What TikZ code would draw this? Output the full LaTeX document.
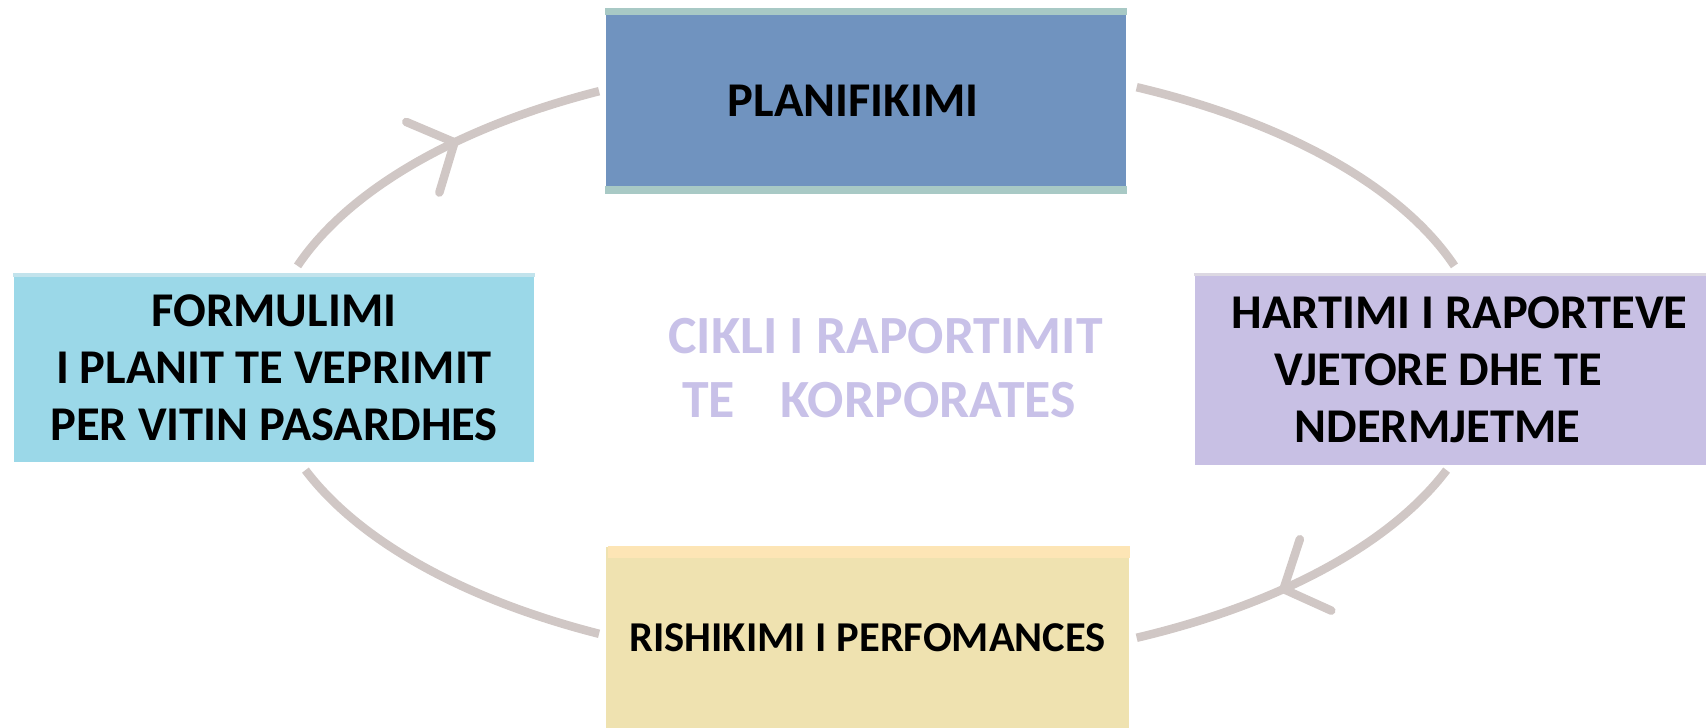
\documentclass[tikz,border=0pt]{standalone}
\usepackage{fontspec}
\setmainfont{Carlito}
\usetikzlibrary{arrows.meta,decorations.markings}

\definecolor{ringgray}{HTML}{D0C7C5}
\definecolor{planblue}{HTML}{7093BF}
\definecolor{planedge}{HTML}{A8C9C5}
\definecolor{formcyan}{HTML}{9BD8E8}
\definecolor{formedge}{HTML}{C2E3EC}
\definecolor{hartlilac}{HTML}{C8C0E4}
\definecolor{hartedge}{HTML}{DCD8E2}
\definecolor{rishsand}{HTML}{EFE2B0}
\definecolor{rishedge}{HTML}{FDE5B5}
\definecolor{ciklililac}{HTML}{C8C1E8}

\tikzset{
  stage/.style={minimum width=5.2cm, minimum height=1.84cm, inner sep=0pt,
    align=center, font=\bfseries\fontsize{13.8}{16.2}\selectfont},
  ring/.style={ringgray, line width=.085cm},
  ringtip/.style={postaction={decorate}, decoration={markings,
    mark=at position #1 with {\arrow{Straight Barb[length=.35cm,width=.78cm,round]}}}}
}

\begin{document}
\begin{tikzpicture}
  \useasboundingbox (0,0) rectangle (17.06,7.28);

  \coordinate (cycle) at (8.76,3.655);
  \draw[ring, ringtip=.58] (cycle) ++(161.5:6.10 and 3.045) arc[start angle=161.5, end angle=117, x radius=6.10, y radius=3.045];
  \draw[ring] (cycle) ++(64.7:6.10 and 3.045) arc[start angle=64.7, end angle=18.5, x radius=6.10, y radius=3.045];
  \draw[ring, ringtip=.58] (cycle) ++(-20.7:6.10 and 3.045) arc[start angle=-20.7, end angle=-64.7, x radius=6.10, y radius=3.045];
  \draw[ring] (cycle) ++(-117:6.10 and 3.045) arc[start angle=-117, end angle=-159.3, x radius=6.10, y radius=3.045];

  \node[stage, fill=planblue] (plan) at (8.66,6.27) {PLANIFIKIMI\hspace*{.26cm}};
  \fill[planedge] (plan.north west) rectangle ([yshift=-.07cm]plan.north east);
  \fill[planedge] (plan.south west) rectangle ([yshift=.08cm]plan.south east);

  \node[stage, fill=formcyan, minimum height=1.88cm] (form) at (2.74,3.60) {FORMULIMI\\I PLANIT TE VEPRIMIT\\PER VITIN PASARDHES};
  \fill[formedge] (form.north west) rectangle ([yshift=-.04cm]form.north east);

  \node[stage, fill=hartlilac, minimum width=5.11cm, minimum height=1.91cm] (hart) at (14.505,3.585)
    {\hspace*{.18cm}HARTIMI I RAPORTEVE\\VJETORE DHE TE\hspace*{.24cm}\null\\NDERMJETME\hspace*{.26cm}};
  \fill[hartedge] (hart.north west) rectangle ([yshift=-.03cm]hart.north east);

  \node[stage, fill=rishsand, minimum width=5.23cm, minimum height=1.81cm,
    font=\bfseries\fontsize{12.1}{14.5}\selectfont] (rish) at (8.675,0.905) {RISHIKIMI I PERFOMANCES};
  \fill[rishedge] ([xshift=.03cm]rish.north west) rectangle ([yshift=-.12cm]rish.north east);

  \node[ciklililac, align=center, font=\bfseries\fontsize{15.3}{18}\selectfont] (cikli) at (8.79,3.60)
    {\hspace*{.13cm}CIKLI I RAPORTIMIT\\TE\hspace{.85em}KORPORATES};
\end{tikzpicture}
\end{document}
